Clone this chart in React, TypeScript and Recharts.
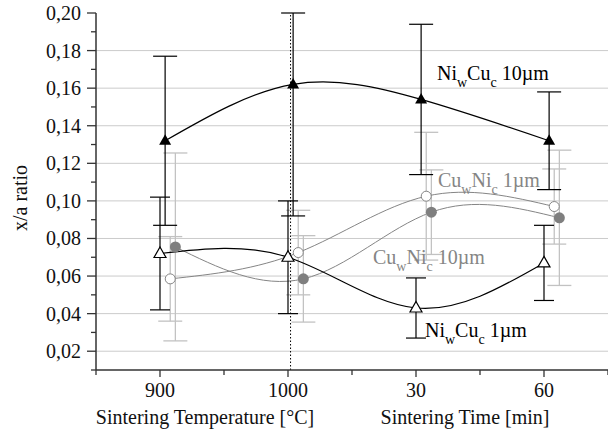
import React from 'react';
import {
  ComposedChart,
  Line,
  XAxis,
  YAxis,
  ErrorBar,
  CartesianGrid,
  ReferenceLine,
  ReferenceDot,
  Customized,
} from 'recharts';

const FONT = 'Liberation Serif, DejaVu Serif, Times New Roman, serif';
const TXT = { fontFamily: FONT };

// categories along x (two groups: temperature, then time)
const CATEGORIES = ['900', '1000', '30', '60'];
const X_TICKS = [0.5, 1, 1.5, 2, 2.5, 3, 3.5, 4, 4.5];
const Y_TICKS = [
  0.01, 0.02, 0.03, 0.04, 0.05, 0.06, 0.07, 0.08, 0.09, 0.1,
  0.11, 0.12, 0.13, 0.14, 0.15, 0.16, 0.17, 0.18, 0.19, 0.2,
];
const GRID_VALUES = [0.02, 0.04, 0.06, 0.08, 0.1, 0.12, 0.14, 0.16, 0.18];

// series values + errors ([minus, plus])
const NI_10 = [0.132, 0.162, 0.154, 0.132];
const NI_10_ERR = [[0.045, 0.045], [0.07, 0.038], [0.04, 0.04], [0.026, 0.026]];
const NI_1 = [0.072, 0.07, 0.043, 0.067];
const NI_1_ERR = [[0.03, 0.03], [0.03, 0.03], [0.016, 0.016], [0.02, 0.02]];
const CU_1 = [0.0585, 0.0725, 0.1025, 0.097];
const CU_1_ERR = [[0.0225, 0.0225], [0.0225, 0.0225], [0.034, 0.034], [0.02, 0.02]];
const CU_10 = [0.0755, 0.0585, 0.094, 0.091];
const CU_10_ERR = [[0.05, 0.05], [0.023, 0.023], [0.0225, 0.0225], [0.036, 0.036]];

// small horizontal shift of each series so the error bars don't overlap
const build = (vals: number[], errs: number[][], shift: number) =>
  vals.map((y, i) => ({ x: i + 1 + shift, y, err: errs[i] }));

const ni1Data = build(NI_1, NI_1_ERR, 0);
const ni10Data = build(NI_10, NI_10_ERR, 0.04);
const cu1Data = build(CU_1, CU_1_ERR, 0.08);
const cu10Data = build(CU_10, CU_10_ERR, 0.12);

const BLACK = '#000000';
const GRAY = '#858585';
const LIGHT = '#c2c2c2';

const tri = (cx: number, cy: number) =>
  `M${cx},${cy - 6.5} L${cx + 6},${cy + 4} L${cx - 6},${cy + 4} Z`;

const FilledTriangle = (p: any) =>
  p.cx == null ? null : <path key={p.index} d={tri(p.cx, p.cy)} fill={BLACK} />;
const OpenTriangle = (p: any) =>
  p.cx == null ? null : (
    <path key={p.index} d={tri(p.cx, p.cy)} fill="#fff" stroke={BLACK} strokeWidth={1.2} />
  );
const OpenCircle = (p: any) =>
  p.cx == null ? null : (
    <circle key={p.index} cx={p.cx} cy={p.cy} r={5} fill="#fff" stroke={GRAY} strokeWidth={1} />
  );
const FilledCircle = (p: any) =>
  p.cx == null ? null : <circle key={p.index} cx={p.cx} cy={p.cy} r={5.5} fill="#7f7f7f" />;

const YTick = (props: any) => {
  const { x, y, payload } = props;
  const v = payload.value;
  const major = Math.round(v * 100) % 2 === 0;
  return (
    <g>
      <line x1={x - (major ? 9 : 5)} x2={x} y1={y} y2={y} stroke="#333" strokeWidth={1.3} />
      {major && (
        <text x={x - 15} y={y} dy="0.35em" textAnchor="end" fontSize={20} fontFamily={FONT} style={TXT} fill="#111">
          {v.toFixed(2).replace('.', ',')}
        </text>
      )}
    </g>
  );
};

const XTick = (props: any) => {
  const { x, y, payload } = props;
  const v = payload.value;
  const major = Number.isInteger(v);
  return (
    <g>
      <line x1={x} x2={x} y1={y} y2={y + (major ? 7 : 5)} stroke="#333" strokeWidth={1.3} />
      {major && (
        <text x={x} y={y + 20} dy="0.35em" textAnchor="middle" fontSize={20} fontFamily={FONT} style={TXT} fill="#111">
          {CATEGORIES[v - 1]}
        </text>
      )}
    </g>
  );
};

const SeriesLabel = (props: any) => {
  const { viewBox, a, b, rest, color } = props;
  if (!viewBox) return null;
  return (
    <text x={viewBox.x} y={viewBox.y} fontSize={20} fontFamily={FONT} style={TXT} fill={color}>
      <tspan>{a}</tspan>
      <tspan dy={7} fontSize={14}>w</tspan>
      <tspan dy={-7}>{b}</tspan>
      <tspan dy={7} fontSize={14}>c</tspan>
      <tspan dy={-7}>{rest}</tspan>
    </text>
  );
};

const Titles = () => (
  <g fontSize={20} fill="#111" fontFamily={FONT} style={TXT}>
    <text x={20} y={198} transform="rotate(-90 20 198)" textAnchor="middle" dy="0.35em" style={TXT}>
      x/a ratio
    </text>
    <text x={205} y={417} textAnchor="middle" dy="0.35em" style={TXT}>
      Sintering Temperature [°C]
    </text>
    <text x={465} y={417} textAnchor="middle" dy="0.35em" style={TXT}>
      Sintering Time [min]
    </text>
  </g>
);

export default function App() {
  return (
    <div style={{ position: 'absolute', left: 0, top: 0, background: '#fff', fontFamily: FONT }}>
      <ComposedChart width={608} height={436} margin={{ top: 13, right: 0, bottom: 0, left: 0 }}>
        <CartesianGrid horizontalValues={GRID_VALUES} vertical={false} stroke="#cbcbcb" strokeWidth={1} />
        <XAxis
          type="number"
          dataKey="x"
          domain={[0.5, 4.5]}
          ticks={X_TICKS}
          interval={0}
          height={66}
          tickSize={0}
          tickMargin={0}
          tickLine={false}
          tick={<XTick />}
          axisLine={{ stroke: '#333', strokeWidth: 1.5 }}
          allowDataOverflow
        />
        <YAxis
          type="number"
          domain={[0.01, 0.2]}
          ticks={Y_TICKS}
          interval={0}
          width={96}
          tickSize={0}
          tickMargin={0}
          tickLine={false}
          tick={<YTick />}
          axisLine={{ stroke: '#333', strokeWidth: 1.5 }}
          allowDataOverflow
        />
        <ReferenceLine x={2.02} stroke="#000" strokeDasharray="1.5 2" strokeWidth={1} />

        <Line data={cu10Data} dataKey="y" type="natural" stroke={GRAY} strokeWidth={1} dot={FilledCircle} activeDot={false} isAnimationActive={false}>
          <ErrorBar dataKey="err" direction="y" width={12} stroke={LIGHT} strokeWidth={1.3} />
        </Line>
        <Line data={cu1Data} dataKey="y" type="natural" stroke={GRAY} strokeWidth={1} dot={OpenCircle} activeDot={false} isAnimationActive={false}>
          <ErrorBar dataKey="err" direction="y" width={12} stroke={LIGHT} strokeWidth={1.3} />
        </Line>
        <Line data={ni1Data} dataKey="y" type="natural" stroke={BLACK} strokeWidth={1.2} dot={OpenTriangle} activeDot={false} isAnimationActive={false}>
          <ErrorBar dataKey="err" direction="y" width={10} stroke={BLACK} strokeWidth={1.2} />
        </Line>
        <Line data={ni10Data} dataKey="y" type="natural" stroke={BLACK} strokeWidth={1.2} dot={FilledTriangle} activeDot={false} isAnimationActive={false}>
          <ErrorBar dataKey="err" direction="y" width={12} stroke={BLACK} strokeWidth={1.2} />
        </Line>

        <ReferenceDot x={3.164} y={0.1643} r={0} fill="none" stroke="none"
          label={<SeriesLabel a="Ni" b="Cu" rest=" 10µm" color={BLACK} />} />
        <ReferenceDot x={3.172} y={0.1074} r={0} fill="none" stroke="none"
          label={<SeriesLabel a="Cu" b="Ni" rest=" 1µm" color={GRAY} />} />
        <ReferenceDot x={2.664} y={0.0664} r={0} fill="none" stroke="none"
          label={<SeriesLabel a="Cu" b="Ni" rest=" 10µm" color={GRAY} />} />
        <ReferenceDot x={3.07} y={0.0276} r={0} fill="none" stroke="none"
          label={<SeriesLabel a="Ni" b="Cu" rest=" 1µm" color={BLACK} />} />

        <Customized component={Titles} />
      </ComposedChart>
    </div>
  );
}
